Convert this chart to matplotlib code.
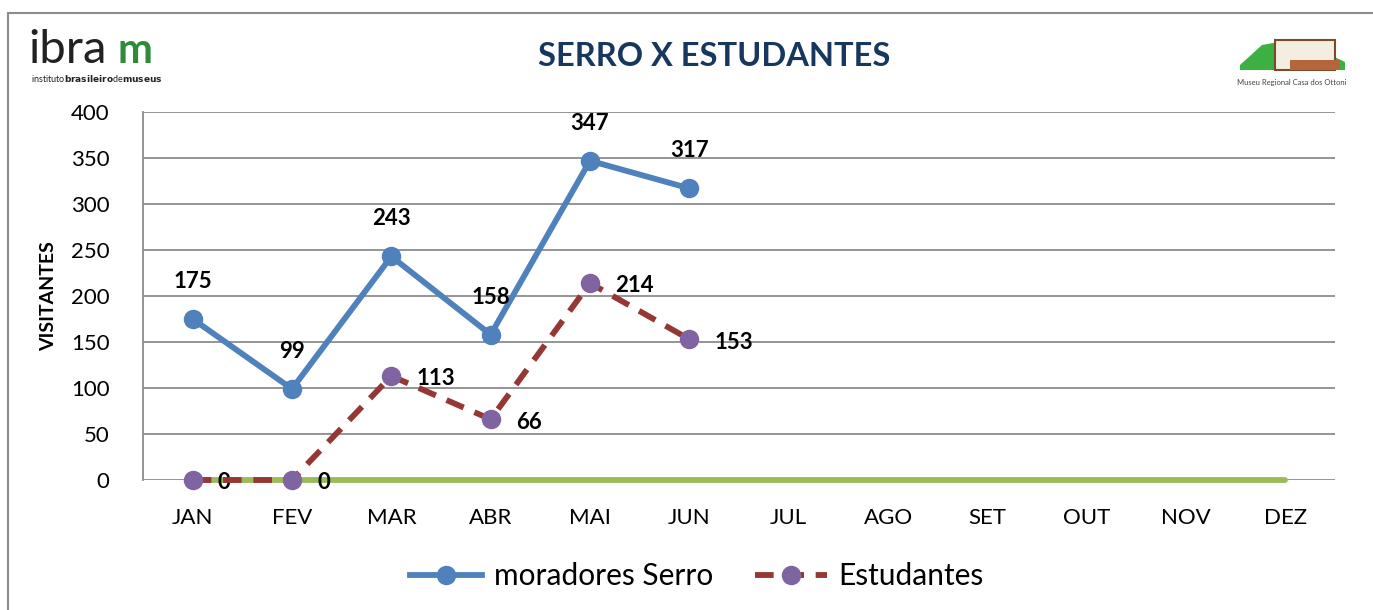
import matplotlib
matplotlib.use("Agg")
import matplotlib.pyplot as plt
import matplotlib.patches as patches
import numpy as np

# ── Data ─────────────────────────────────────────────────────────────────────
months = ["JAN", "FEV", "MAR", "ABR", "MAI", "JUN",
          "JUL", "AGO", "SET", "OUT", "NOV", "DEZ"]
moradores = [175, 99, 243, 158, 347, 317]
estudantes = [0, 0, 113, 66, 214, 153]
baseline = [0] * 12   # green series, all zero

title = "SERRO X ESTUDANTES"
ylabel = "VISITANTES"
# ─────────────────────────────────────────────────────────────────────────────

plt.rcParams["font.family"] = ["Lato", "DejaVu Sans"]

W, H = 1373, 610
fig = plt.figure(figsize=(W / 100, H / 100), dpi=100)

# outer frame
fig.patches.append(patches.Rectangle((8 / W, -0.05), 1.2, 1 - 13 / H + 0.05,
                                     transform=fig.transFigure, fill=False,
                                     edgecolor="#8c8c8c", linewidth=1.5))

ax = fig.add_axes([143 / W, 1 - 480 / H, (1335 - 143) / W, (480 - 112) / H])

x = np.arange(12) + 0.5
xm = x[:len(moradores)]
xe = x[:len(estudantes)]

ax.plot(x, baseline, color="#9BBB59", linewidth=4.2, solid_capstyle="round",
        zorder=2, clip_on=False)
ax.plot(xm, moradores, color="#4F81BD", linewidth=4.2, marker="o",
        markersize=13, label="moradores Serro", zorder=3, clip_on=False)
ax.plot(xe, estudantes, color="#953735", linewidth=4.2, linestyle=(0, (3.2, 2)),
        marker="o", markersize=13, markerfacecolor="#8064A2",
        markeredgecolor="#8064A2", label="Estudantes", zorder=4, clip_on=False)

for xi, v in zip(xm, moradores):
    ax.annotate(f"{v}", (xi, v), xytext=(0, 27), textcoords="offset points",
                ha="center", va="center", fontsize=16, fontweight="bold")
for xi, v in zip(xe, estudantes):
    ax.annotate(f"{v}", (xi, v), xytext=(18, -2), textcoords="offset points",
                ha="left", va="center", fontsize=16, fontweight="bold")

ax.set_xlim(0, 12)
ax.set_ylim(0, 400)
ax.set_yticks(range(0, 401, 50))
ax.set_xticks(x)
ax.set_xticklabels(months)
ax.tick_params(axis="both", length=0, labelsize=16)
ax.tick_params(axis="x", pad=20)
ax.tick_params(axis="y", pad=24)
ax.yaxis.grid(True, color="#8c8c8c", linewidth=1.3)
ax.set_axisbelow(True)
for s in ["top", "right", "bottom"]:
    ax.spines[s].set_visible(False)
ax.spines["left"].set_color("#8c8c8c")
ax.spines["left"].set_linewidth(1.3)
ax.set_ylabel(ylabel, fontsize=14, fontweight="bold", labelpad=10)

fig.legend(loc="center", bbox_to_anchor=(697 / W, 1 - 576 / H), ncol=2,
           frameon=False, fontsize=21.5, handlelength=2.4, columnspacing=1.4,
           handletextpad=0.4)

fig.text(714 / W, 1 - 57 / H, title, ha="center", va="center", fontsize=23.5,
         fontweight="bold", color="#17375E")

# logos drawn as text
fig.text(28 / W, 1 - 63 / H, "ibra", fontsize=34, color="#222222",
         va="baseline", ha="left")
fig.text(118 / W, 1 - 63 / H, "m", fontsize=30, color="#2E8B3A",
         fontweight="bold", va="baseline", ha="left")
fig.text(31 / W, 1 - 79 / H, "instituto$\\bf{brasileiro}$de$\\bf{museus}$",
         fontsize=6.5, color="#222222", va="center", ha="left")

fig.patches.append(patches.Polygon(
    [(1240 / W, 1 - 65 / H), (1262 / W, 1 - 45 / H), (1290 / W, 1 - 40 / H),
     (1320 / W, 1 - 50 / H), (1345 / W, 1 - 62 / H), (1345 / W, 1 - 70 / H),
     (1240 / W, 1 - 70 / H)], closed=True, transform=fig.transFigure,
    facecolor="#3CB043", edgecolor="none"))
fig.patches.append(patches.Rectangle((1275 / W, 1 - 70 / H), 60 / W, 30 / H,
                                     transform=fig.transFigure,
                                     facecolor="#F4EEE0", edgecolor="#7A4A2A",
                                     linewidth=1.5))
fig.patches.append(patches.Rectangle((1290 / W, 1 - 70 / H), 50 / W, 10 / H,
                                     transform=fig.transFigure,
                                     facecolor="#B5653A", edgecolor="none"))
fig.text(1292 / W, 1 - 83 / H, "Museu Regional Casa dos Ottoni", fontsize=5.5,
         color="#444444", ha="center", va="center")

fig.savefig("out.png", dpi=100)
